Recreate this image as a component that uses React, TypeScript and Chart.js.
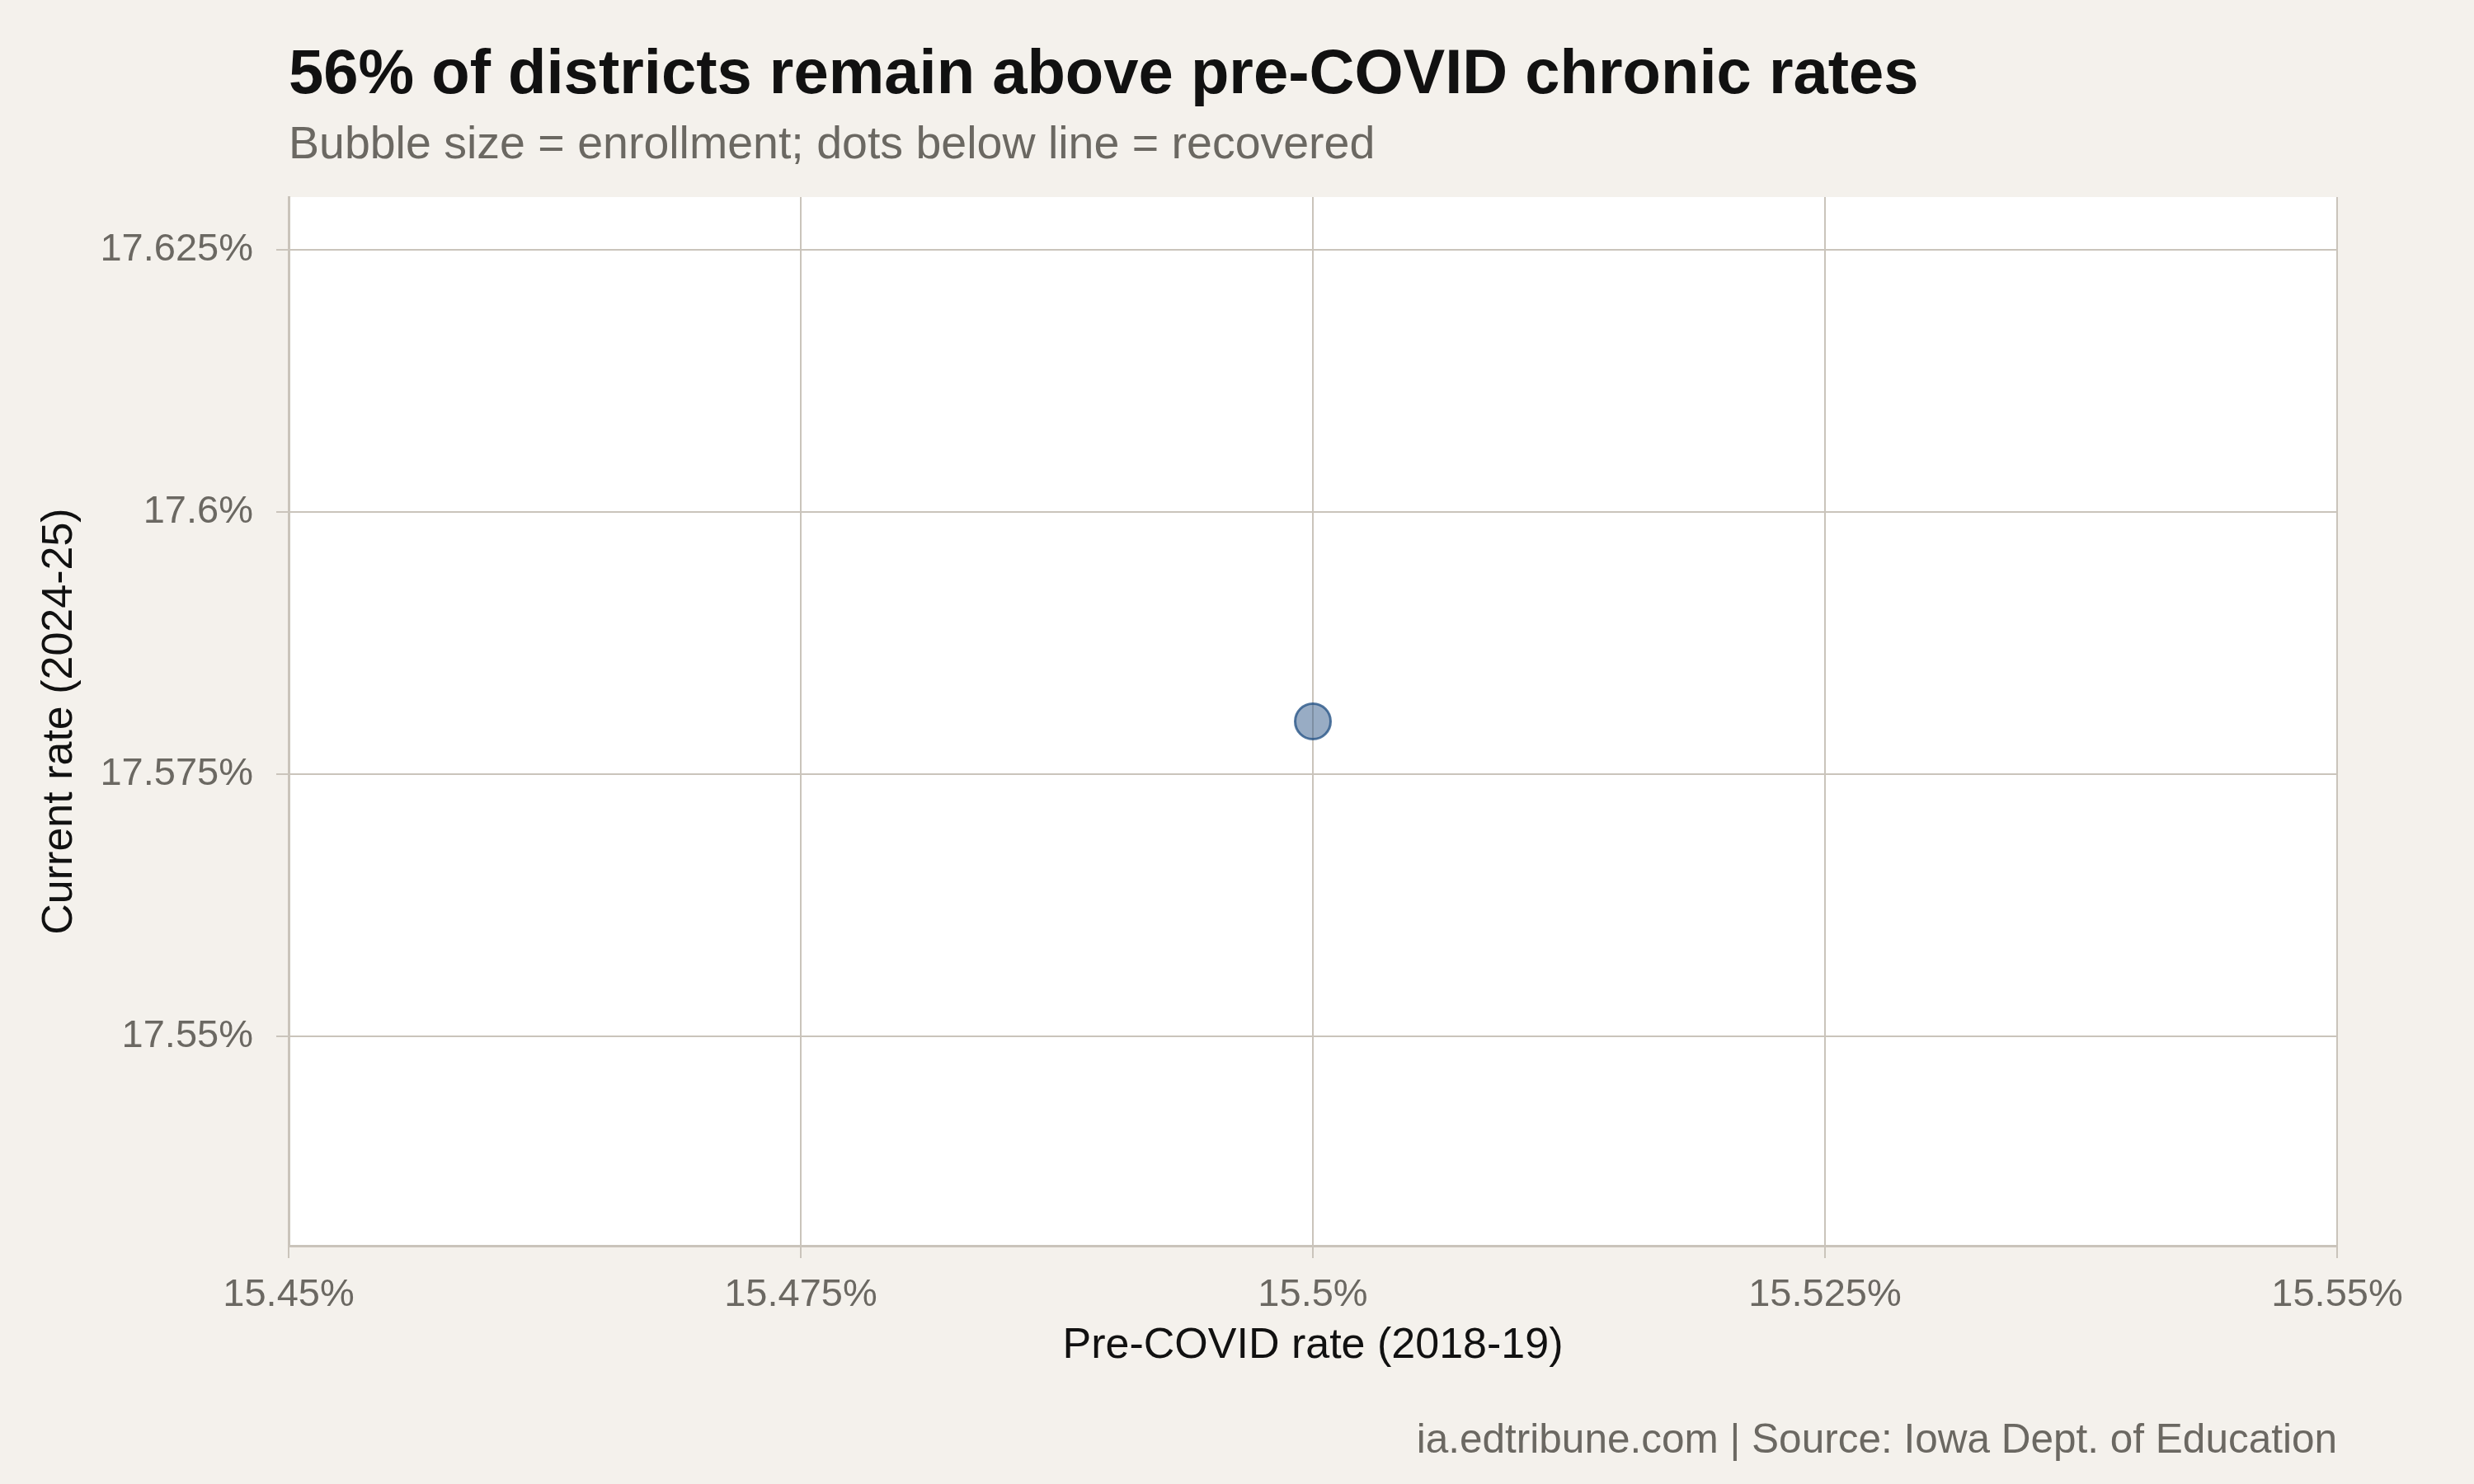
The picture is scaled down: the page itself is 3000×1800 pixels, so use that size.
import React, { useEffect, useRef } from "react";
import { Chart, registerables } from "chart.js";

Chart.register(...registerables);

// ---- Data ----
const districtNames: string[] = ["District"];
const preCovidRates: number[] = [15.5];
const currentRates: number[] = [17.58];

const xTicks: number[] = [15.45, 15.475, 15.5, 15.525, 15.55];
const yTicks: number[] = [17.55, 17.575, 17.6, 17.625];
const xRange: number[] = [15.45, 15.55];
const yRange: number[] = [17.53, 17.63];

const titleText = "56% of districts remain above pre-COVID chronic rates";
const subtitleText = "Bubble size = enrollment; dots below line = recovered";
const captionText = "ia.edtribune.com | Source: Iowa Dept. of Education";
const xTitle = "Pre-COVID rate (2018-19)";
const yTitle = "Current rate (2024-25)";

const FONT = '"Liberation Sans", Arial, Helvetica, sans-serif';
const BG = "#f4f1ec";
const GRID = "#cac4bb";
const TICK_TEXT = "#6b6862";

const fmt = (v: number) => `${parseFloat(Number(v).toFixed(3))}%`;

export default function App() {
  const canvasRef = useRef<HTMLCanvasElement | null>(null);

  useEffect(() => {
    document.body.style.margin = "0";
    document.body.style.background = BG;
    const canvas = canvasRef.current;
    if (!canvas) return;

    const backgroundPlugin = {
      id: "bgPlugin",
      beforeDraw(chart: any) {
        const { ctx, chartArea, width, height } = chart;
        ctx.save();
        ctx.fillStyle = BG;
        ctx.fillRect(0, 0, width, height);
        ctx.fillStyle = "#ffffff";
        ctx.fillRect(
          chartArea.left,
          chartArea.top,
          chartArea.right - chartArea.left,
          chartArea.bottom - chartArea.top
        );
        ctx.restore();
      },
      afterDraw(chart: any) {
        const { ctx, chartArea } = chart;
        ctx.save();
        ctx.textBaseline = "alphabetic";
        ctx.textAlign = "left";
        ctx.fillStyle = "#111111";
        ctx.font = `bold 76px ${FONT}`;
        ctx.fillText(titleText, chartArea.left, 113);
        ctx.fillStyle = TICK_TEXT;
        ctx.font = `55.5px ${FONT}`;
        ctx.fillText(subtitleText, chartArea.left, 192);
        ctx.textAlign = "right";
        ctx.font = `49.5px ${FONT}`;
        ctx.fillText(captionText, chartArea.right, 1762);
        ctx.restore();
      },
    };

    const chart = new Chart(canvas, {
      type: "scatter",
      data: {
        labels: districtNames,
        datasets: [
          {
            label: "Districts",
            data: preCovidRates.map((x, i) => ({ x, y: currentRates[i] })),
            pointRadius: 21.5,
            pointHoverRadius: 21.5,
            backgroundColor: "rgba(49, 89, 137, 0.5)",
            borderColor: "rgba(40, 85, 135, 0.8)",
            borderWidth: 3,
          },
        ],
      },
      options: {
        animation: false,
        responsive: false,
        devicePixelRatio: 1,
        layout: { padding: { left: 0, top: 239, right: 166, bottom: 0 } },
        plugins: {
          legend: { display: false },
          tooltip: { enabled: false },
          title: { display: false },
        },
        scales: {
          x: {
            type: "linear",
            position: "bottom",
            min: xRange[0],
            max: xRange[1],
            afterBuildTicks: (scale: any) => {
              scale.ticks = xTicks.map((value) => ({ value }));
            },
            afterFit: (scale: any) => {
              scale.height = 289;
            },
            ticks: {
              callback: (v: any) => fmt(v),
              color: TICK_TEXT,
              font: { family: FONT, size: 47 },
              padding: 17,
              maxRotation: 0,
              autoSkip: false,
            },
            grid: {
              color: GRID,
              lineWidth: 2,
              tickLength: 15,
              drawTicks: true,
            },
            border: { display: true, color: GRID, width: 3 },
            title: {
              display: true,
              text: xTitle,
              color: "#111111",
              font: { family: FONT, size: 52 },
              padding: { top: 0, bottom: 136 },
            },
          },
          y: {
            type: "linear",
            position: "left",
            min: yRange[0],
            max: yRange[1],
            afterBuildTicks: (scale: any) => {
              scale.ticks = yTicks.map((value) => ({ value }));
            },
            afterFit: (scale: any) => {
              scale.width = 350;
            },
            ticks: {
              callback: (v: any) => fmt(v),
              color: TICK_TEXT,
              font: { family: FONT, size: 47 },
              padding: 28,
              autoSkip: false,
            },
            grid: {
              color: GRID,
              lineWidth: 2,
              tickLength: 15,
              drawTicks: true,
            },
            border: { display: true, color: GRID, width: 3 },
            title: {
              display: true,
              text: yTitle,
              color: "#111111",
              font: { family: FONT, size: 52 },
              padding: { top: 41, bottom: 0 },
            },
          },
        },
      },
      plugins: [backgroundPlugin],
    } as any);

    return () => {
      chart.destroy();
    };
  }, []);

  return (
    <div style={{ width: 3000, height: 1800, background: BG }}>
      <canvas
        ref={canvasRef}
        width={3000}
        height={1800}
        style={{ display: "block", width: 3000, height: 1800 }}
      />
    </div>
  );
}
